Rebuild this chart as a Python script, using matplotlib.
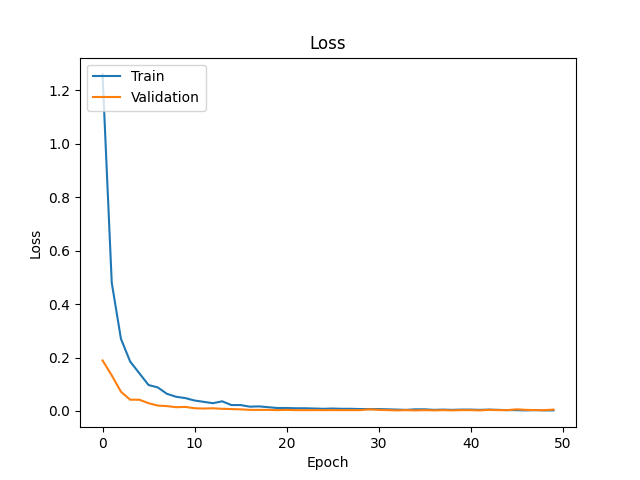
import numpy as np
import matplotlib
matplotlib.use('Agg')
import matplotlib.pyplot as plt

# --- Data ---
train_loss = [1.26, 0.48, 0.27, 0.185, 0.141, 0.097, 0.088, 0.064, 0.053, 0.048,
              0.039, 0.034, 0.029, 0.036, 0.022, 0.022, 0.016, 0.017, 0.014, 0.011,
              0.011, 0.010, 0.010, 0.009, 0.008, 0.009, 0.008, 0.008, 0.007, 0.007,
              0.007, 0.006, 0.005, 0.004, 0.006, 0.006, 0.004, 0.005, 0.004, 0.005,
              0.005, 0.004, 0.005, 0.004, 0.003, 0.003, 0.002, 0.003, 0.002, 0.002]
val_loss = [0.189, 0.133, 0.072, 0.042, 0.042, 0.029, 0.020, 0.018, 0.014, 0.015,
            0.010, 0.009, 0.010, 0.008, 0.007, 0.006, 0.004, 0.004, 0.004, 0.003,
            0.004, 0.003, 0.003, 0.003, 0.003, 0.003, 0.003, 0.003, 0.003, 0.006,
            0.004, 0.003, 0.002, 0.003, 0.002, 0.003, 0.002, 0.003, 0.002, 0.003,
            0.003, 0.002, 0.004, 0.003, 0.003, 0.006, 0.004, 0.003, 0.003, 0.005]
epochs = np.arange(len(train_loss))

# --- Plot ---
fig, ax = plt.subplots(figsize=(6.4, 4.8), dpi=100)
ax.plot(epochs, train_loss, label='Train')
ax.plot(epochs, val_loss, label='Validation')
ax.set_title('Loss')
ax.set_xlabel('Epoch')
ax.set_ylabel('Loss')
ax.legend(loc='upper left')
fig.savefig('out.png')
